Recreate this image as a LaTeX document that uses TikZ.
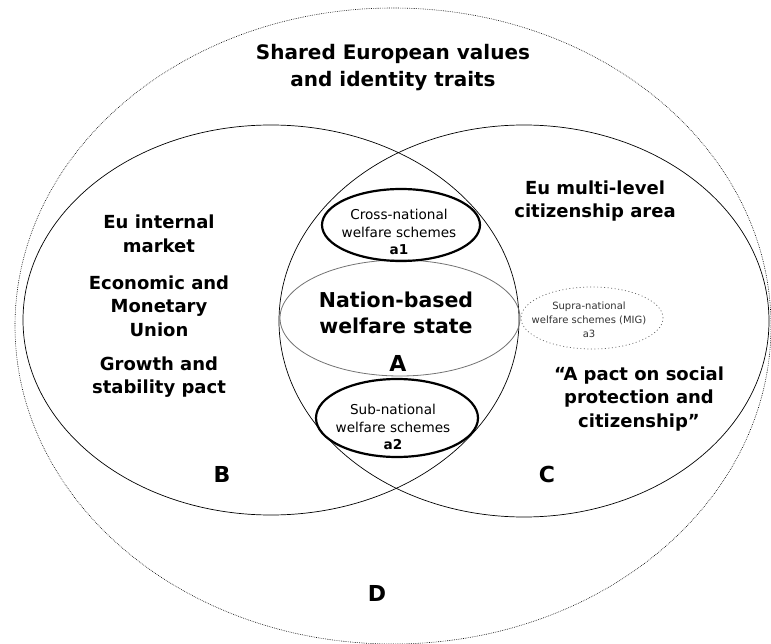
\documentclass[tikz,border=0pt]{standalone}
\usepackage{fontspec}
\setmainfont{DejaVu Sans}
\usetikzlibrary{shapes.geometric}
\tikzset{
  ell/.style={draw, ellipse, inner sep=0pt},
  big/.style={font=\fontsize{18}{23.5}\selectfont\bfseries, align=center, inner sep=0pt},
  small/.style={font=\fontsize{13.6}{17.5}\selectfont, align=center, inner sep=0pt},
  letter/.style={font=\fontsize{22}{24}\selectfont\bfseries, inner sep=0pt},
}
\begin{document}
\begin{tikzpicture}[x=1pt,y=-1pt]
\useasboundingbox (0,0) rectangle (771,644);
% ellipses
\node[ell, minimum width=756pt, minimum height=636pt, line width=0.6pt, dash pattern=on 0.7pt off 1.1pt] (D) at (393,326) {};
\node[ell, minimum width=496pt, minimum height=390pt, line width=0.7pt] (Bell) at (271,320) {};
\node[ell, minimum width=490pt, minimum height=392pt, line width=0.7pt] (Cell) at (524,321) {};
\node[ell, minimum width=240pt, minimum height=116pt, line width=0.8pt, draw=black!55] (nat) at (400,318) {};
\node[ell, minimum width=158pt, minimum height=72pt, line width=2.2pt] (a1) at (401,225) {};
\node[ell, minimum width=162pt, minimum height=78pt, line width=2.2pt] (a2) at (397,418) {};
\node[ell, minimum width=142pt, minimum height=62pt, line width=0.7pt, draw=black!60, dash pattern=on 1pt off 2.5pt] (a3) at (592,318) {};
% texts
\node[font=\fontsize{20}{27}\selectfont\bfseries, align=center, inner sep=0pt] (title) at (393,68) {Shared European values\\and identity traits};
\node[big] (tB1) at (159,234) {Eu internal\\market};
\node[big] (tB2) at (159,306) {Economic and\\Monetary\\Union};
\node[big] (tB3) at (159,377) {Growth and\\stability pact};
\node[big] (tC1) at (595,201) {Eu multi-level\\citizenship area};
\node[big] (tC2) at (639,399) {``A pact on social\\protection and\\citizenship''};
\node[small] (ta1) at (399,232) {Cross-national\\welfare schemes\\\textbf{a1}};
\node[small] (ta2) at (393,427) {Sub-national\\welfare schemes\\\textbf{a2}};
\node[font=\fontsize{10}{14}\selectfont, align=center, inner sep=0pt, text=black!80] (ta3) at (589,320) {Supra-national\\welfare schemes (MIG)\\a3};
\node[font=\fontsize{20.5}{26}\selectfont\bfseries, align=center, inner sep=0pt] (tnat) at (396,313) {Nation-based\\welfare state};
\node[letter] (lA) at (398,363) {A};
\node[letter] (lB) at (222,474) {B};
\node[letter] (lC) at (547,474) {C};
\node[letter] (lD) at (377,593) {D};
\end{tikzpicture}
\end{document}
